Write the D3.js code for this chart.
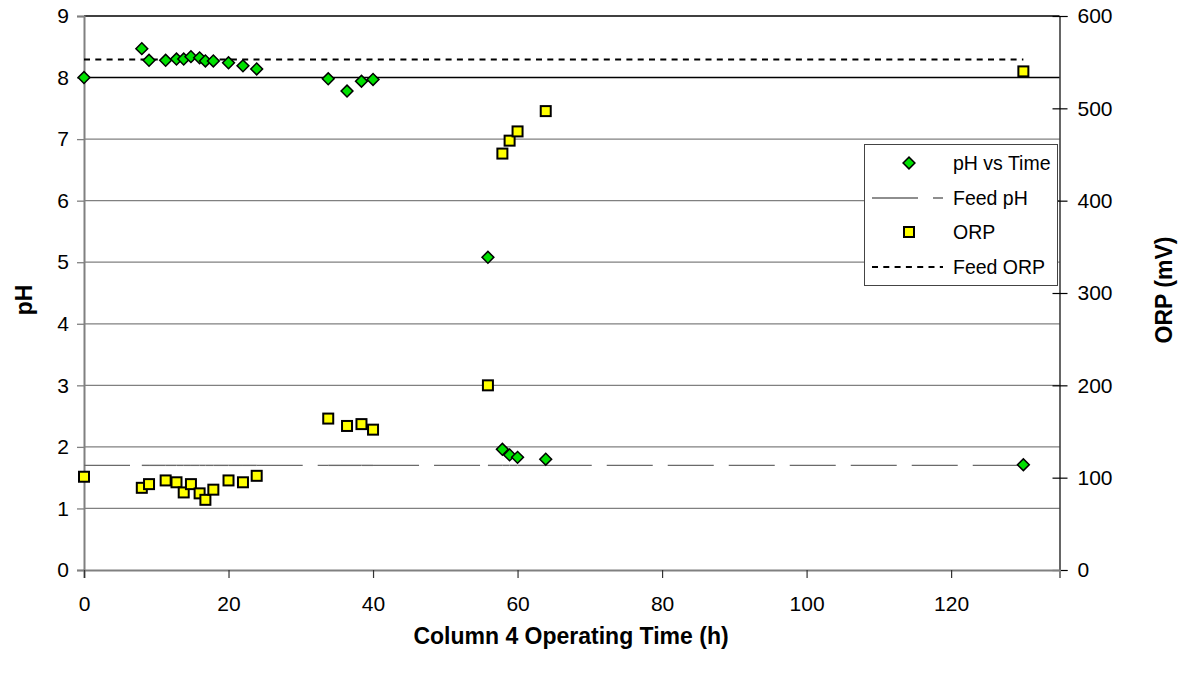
<!DOCTYPE html>
<html>
<head>
<meta charset="utf-8">
<script src="https://cdn.jsdelivr.net/npm/d3@7/dist/d3.min.js"></script>
<style>
  html, body { margin: 0; padding: 0; background: #fff; }
  svg { display: block; font-family: "Liberation Sans", Arial, sans-serif; }
</style>
</head>
<body>
<svg id="chart" width="1184" height="684"></svg>
<script>
// Sampling times (h)
const hours = [0, 8, 9, 11.3, 12.8, 13.8, 14.8, 16, 16.8, 17.9, 20, 22, 23.9,
               33.8, 36.4, 38.4, 40, 55.9, 57.9, 58.9, 60, 63.9, 130];
// Effluent pH
const phValues = [8.0, 8.47, 8.28, 8.28, 8.30, 8.30, 8.34, 8.32, 8.27, 8.27, 8.24, 8.19, 8.14,
                  7.98, 7.78, 7.94, 7.97, 5.08, 1.96, 1.87, 1.83, 1.80, 1.71];
// Effluent ORP (mV)
const orpValues = [101, 89, 93, 97, 95, 84, 93, 83, 76, 87, 97, 95, 102,
                   164, 156, 158, 152, 200, 451, 465, 475, 497, 540];
// Feed levels
const feedPH = 1.7;
const feedORP = 553;
// Tick labels
const timeTicks = [0, 20, 40, 60, 80, 100, 120];
const phTicks = [0, 1, 2, 3, 4, 5, 6, 7, 8, 9];
const orpTicks = [0, 100, 200, 300, 400, 500, 600];

const svg = d3.select("#chart");
const L = 84, R = 1059.5, T = 16, B = 570;
const FONT = "'Liberation Sans', Arial, sans-serif";

const x = d3.scaleLinear().domain([0, 135]).range([L, R]);
const yPH = d3.scaleLinear().domain([0, 9]).range([B, T]);
const yORP = d3.scaleLinear().domain([0, 600]).range([B, T]);

// Horizontal gridlines
svg.append("g").selectAll("line").data(phTicks.filter(d => d > 0)).join("line")
  .attr("x1", L).attr("x2", R)
  .attr("y1", d => yPH(d)).attr("y2", d => yPH(d))
  .attr("stroke", d => d >= 8 ? "#000" : "#808080")
  .attr("stroke-width", d => d >= 8 ? 1.5 : 1.3);

// Left axis
const axL = svg.append("g").attr("transform", `translate(${L},0)`)
  .call(d3.axisLeft(yPH).tickValues(phTicks).tickSize(7).tickPadding(8).tickFormat(d3.format("d")));
axL.select(".domain").attr("stroke", "#808080").attr("stroke-width", 2);
axL.selectAll(".tick line").attr("stroke", "#808080").attr("stroke-width", 1.3);
axL.selectAll("text").attr("font-size", 21).attr("fill", "#000").attr("font-family", FONT);

// Right axis
const axR = svg.append("g").attr("transform", `translate(${R},0)`)
  .call(d3.axisRight(yORP).tickValues(orpTicks).tickSize(8).tickPadding(10).tickFormat(d3.format("d")));
axR.select(".domain").attr("stroke", "#000").attr("stroke-width", 1.2);
axR.selectAll(".tick line").attr("x1", -7).attr("stroke", "#000").attr("stroke-width", 1.2);
axR.selectAll("text").attr("font-size", 21).attr("fill", "#000").attr("font-family", FONT);

// Bottom axis
const axB = svg.append("g").attr("transform", `translate(0,${B})`)
  .call(d3.axisBottom(x).tickValues(timeTicks).tickSize(8).tickPadding(18).tickFormat(d3.format("d")));
axB.select(".domain").attr("stroke", "#808080").attr("stroke-width", 2);
axB.selectAll(".tick line").attr("stroke", "#333").attr("stroke-width", 1.2);
axB.selectAll("text").attr("font-size", 21).attr("fill", "#000").attr("font-family", FONT);

// Feed pH: long-dash line through each sampling time
const feedSegs = d3.pairs(hours);
svg.append("g").selectAll("line").data(feedSegs).join("line")
  .attr("x1", d => x(d[0])).attr("x2", d => x(d[1]))
  .attr("y1", yPH(feedPH)).attr("y2", yPH(feedPH))
  .attr("stroke", "#6a6a6a").attr("stroke-width", 1.4)
  .attr("stroke-dasharray", "46,15");

// Feed ORP: dotted line
svg.append("line")
  .attr("x1", x(hours[0])).attr("x2", x(hours[hours.length - 1]))
  .attr("y1", yORP(feedORP)).attr("y2", yORP(feedORP))
  .attr("stroke", "#000").attr("stroke-width", 2)
  .attr("stroke-dasharray", "6,5.3");

// pH markers (diamonds)
const diamond = d3.symbol().type(d3.symbolSquare).size(70);
svg.append("g").selectAll("path").data(hours.map((h, i) => [h, phValues[i]])).join("path")
  .attr("d", diamond)
  .attr("transform", d => `translate(${x(d[0])},${yPH(d[1])}) rotate(45)`)
  .attr("fill", "#00e000").attr("stroke", "#000").attr("stroke-width", 1.5);

// ORP markers (squares)
const sq = 10;
svg.append("g").selectAll("rect").data(hours.map((h, i) => [h, orpValues[i]])).join("rect")
  .attr("x", d => x(d[0]) - sq / 2).attr("y", d => yORP(d[1]) - sq / 2)
  .attr("width", sq).attr("height", sq)
  .attr("fill", "#ffff00").attr("stroke", "#000").attr("stroke-width", 2);

// Axis titles
svg.append("text").attr("transform", "translate(32,300) rotate(-90)")
  .attr("text-anchor", "middle").attr("font-size", 23).attr("font-weight", "bold").text("pH");
svg.append("text").attr("transform", "translate(1172,290) rotate(-90)")
  .attr("text-anchor", "middle").attr("font-size", 23).attr("font-weight", "bold").text("ORP (mV)");
svg.append("text").attr("x", 571).attr("y", 644)
  .attr("text-anchor", "middle").attr("font-size", 23).attr("font-weight", "bold")
  .text("Column 4 Operating Time (h)");

// Legend
const lg = svg.append("g");
lg.append("rect").attr("x", 864.5).attr("y", 144.5).attr("width", 193).attr("height", 141)
  .attr("fill", "#fff").attr("stroke", "#444").attr("stroke-width", 1);
const rows = [
  { label: "pH vs Time", kind: "diamond" },
  { label: "Feed pH", kind: "dash" },
  { label: "ORP", kind: "square" },
  { label: "Feed ORP", kind: "dot" }
];
const rowY = [163, 198, 232, 267];
rows.forEach((r, i) => {
  const yy = rowY[i];
  if (r.kind === "diamond") {
    lg.append("path").attr("d", diamond)
      .attr("transform", `translate(909,${yy}) rotate(45)`)
      .attr("fill", "#00e000").attr("stroke", "#000").attr("stroke-width", 1.5);
  } else if (r.kind === "square") {
    lg.append("rect").attr("x", 909 - sq / 2).attr("y", yy - sq / 2).attr("width", sq).attr("height", sq)
      .attr("fill", "#ffff00").attr("stroke", "#000").attr("stroke-width", 2);
  } else if (r.kind === "dash") {
    lg.append("line").attr("x1", 872).attr("x2", 943).attr("y1", yy).attr("y2", yy)
      .attr("stroke", "#6a6a6a").attr("stroke-width", 1.4).attr("stroke-dasharray", "46,15");
  } else {
    lg.append("line").attr("x1", 872).attr("x2", 943).attr("y1", yy).attr("y2", yy)
      .attr("stroke", "#000").attr("stroke-width", 2).attr("stroke-dasharray", "6,5.3");
  }
  lg.append("text").attr("x", 953).attr("y", yy).attr("dy", "0.35em")
    .attr("font-size", 19.5).attr("fill", "#000").attr("font-family", FONT).text(r.label);
});
</script>
</body>
</html>
